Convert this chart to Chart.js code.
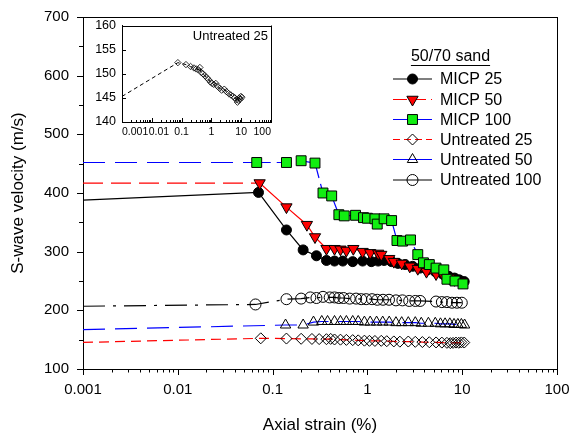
<!DOCTYPE html>
<html>
<head>
<meta charset="utf-8">
<script src="https://cdn.jsdelivr.net/npm/chart.js@4.4.0/dist/chart.umd.min.js"></script>
<style>
  html, body { margin: 0; padding: 0; background: #fff; }
  #wrap { position: relative; width: 576px; height: 441px; }
  #main { position: absolute; left: 0; top: 0; }
  #inset { position: absolute; left: 80px; top: 12px; }
</style>
</head>
<body>
<div id="wrap">
  <canvas id="main" width="576" height="441"></canvas>
  <canvas id="inset" width="200" height="140"></canvas>
</div>
<script>
// axial strain (%) and S-wave velocity (m/s)
const micp25Strain = [0.001, 0.071, 0.14, 0.21, 0.29, 0.37, 0.45, 0.55, 0.7, 0.89, 1.1, 1.3, 1.5, 1.8, 2.1, 2.5, 3.0, 3.6, 4.3, 5.2, 6.2, 7.2, 8.3, 9.3, 10.5];
const micp25Vs = [388, 401, 337, 303, 293, 285, 284, 284, 283, 284, 283, 284, 285, 283, 280, 278, 275, 272, 269, 266, 262, 258, 255, 252, 249];

const micp50Strain = [0.001, 0.073, 0.14, 0.23, 0.28, 0.37, 0.45, 0.52, 0.6, 0.71, 0.89, 1.07, 1.3, 1.4, 1.7, 1.9, 2.3, 2.8, 3.4, 4.2, 5.3, 6.4, 7.3, 8.3, 9.9];
const micp50Vs = [417, 417, 376, 346, 325, 305, 305, 304, 302, 305, 300, 298, 297, 295, 288, 283, 280, 275, 271, 266, 262, 258, 255, 252, 249];

const micp100Strain = [0.001, 0.068, 0.14, 0.2, 0.28, 0.34, 0.42, 0.5, 0.57, 0.75, 0.91, 1.0, 1.2, 1.27, 1.5, 1.8, 2.05, 2.35, 2.85, 3.4, 3.9, 4.5, 5.3, 6.4, 6.9, 8.4, 10.2];
const micp100Vs = [452, 452, 452, 455, 451, 400, 395, 363, 361, 362, 358, 357, 356, 347, 356, 353, 319, 318, 320, 295, 281, 278, 272, 269, 253, 250, 245];

const u25Strain = [0.001, 0.075, 0.14, 0.2, 0.26, 0.31, 0.37, 0.41, 0.45, 0.52, 0.6, 0.7, 0.8, 0.93, 1.05, 1.2, 1.4, 1.6, 1.9, 2.2, 2.7, 3.2, 3.8, 4.5, 5.3, 6.1, 6.9, 7.5, 8.0, 8.6, 9.2, 9.8, 10.5];
const u25Vs = [145.3, 152.3, 151.9, 151.5, 151.2, 151.0, 150.8, 151.3, 150.3, 150.0, 149.6, 149.2, 148.8, 148.3, 148.0, 147.8, 148.0, 147.4, 147.0, 146.6, 146.8, 146.3, 145.9, 145.6, 145.3, 145.0, 144.6, 144.1, 144.5, 145.0, 144.7, 145.3, 145.1];

const u50Strain = [0.001, 0.137, 0.21, 0.27, 0.33, 0.38, 0.45, 0.52, 0.6, 0.7, 0.8, 0.93, 1.07, 1.25, 1.45, 1.7, 2.0, 2.3, 2.7, 3.2, 3.7, 4.4, 5.2, 5.9, 6.6, 7.4, 8.2, 9.0, 9.8, 10.6];
const u50Vs = [167, 175, 175, 180, 181, 181, 181, 181, 181, 181, 181, 180, 180, 180, 180, 180, 179, 179, 179, 179, 178, 178, 178, 177, 177, 177, 176, 176, 176, 175];

const u100Strain = [0.001, 0.066, 0.14, 0.2, 0.25, 0.29, 0.34, 0.4, 0.45, 0.5, 0.56, 0.65, 0.76, 0.86, 0.97, 1.12, 1.27, 1.46, 1.69, 2.0, 2.34, 2.76, 3.2, 3.6, 5.3, 6.1, 6.9, 7.8, 8.8, 9.9];
const u100Vs = [207, 210, 219, 220, 222, 221, 223, 222, 222, 221, 221, 220, 220, 219, 219, 219, 218, 218, 218, 217, 217, 216, 216, 216, 215, 214, 214, 213, 213, 213];

const xTickLabels = ["0.001", "0.01", "0.1", "1", "10", "100"];
const xTickValues = [0.001, 0.01, 0.1, 1, 10, 100];
const legendTitle = "50/70 sand";

const FONT = "'Liberation Sans', Arial, sans-serif";

function pts(xs, ys) {
  return xs.map((x, i) => ({ x: x, y: ys[i] }));
}

function decadeLabel(v) {
  const e = Math.log10(v);
  const r = Math.round(e);
  if (Math.abs(e - r) > 1e-6) return "";
  return xTickLabels[r + 3] || "";
}

// first point of every series is the 0.001 anchor, drawn without marker
function series(label, xs, ys, o) {
  return {
    label: label,
    data: pts(xs, ys),
    showLine: true,
    tension: 0,
    order: o.order,
    borderColor: o.line,
    borderWidth: 1.2,
    segment: {
      borderDash: (c) => (c.p0DataIndex === 0 ? o.firstDash : o.dash),
    },
    pointStyle: o.style,
    rotation: o.rotation || 0,
    pointRadius: (c) => (c.dataIndex === 0 ? 0 : o.radius),
    pointBackgroundColor: o.fill,
    pointBorderColor: "#000",
    pointBorderWidth: 1,
    legendDash: o.legendDash,
  };
}

const datasets = [
  series("MICP 25", micp25Strain, micp25Vs, { order: 2, line: "#000", firstDash: [], dash: [], legendDash: [], style: "circle", radius: 5, fill: "#000" }),
  series("MICP 50", micp50Strain, micp50Vs, { order: 1, line: "#ff0000", firstDash: [20, 8], dash: [], legendDash: [14, 5], style: "triangle", rotation: 180, radius: 6.5, fill: "#ff0000" }),
  series("MICP 100", micp100Strain, micp100Vs, { order: 0, line: "#0000ff", firstDash: [22, 10], dash: [14, 6], legendDash: [], style: "rect", radius: 7, fill: "#11ee11" }),
  series("Untreated 25", u25Strain, u25Vs, { order: 5, line: "#ff0000", firstDash: [10, 6], dash: [10, 6], legendDash: [7, 4], style: "rectRot", radius: 5.5, fill: "rgba(0,0,0,0)" }),
  series("Untreated 50", u50Strain, u50Vs, { order: 4, line: "#0000ff", firstDash: [22, 10], dash: [22, 10], legendDash: [], style: "triangle", radius: 6, fill: "rgba(0,0,0,0)" }),
  series("Untreated 100", u100Strain, u100Vs, { order: 3, line: "#000", firstDash: [22, 8, 3, 8], dash: [22, 8, 3, 8], legendDash: [], style: "circle", radius: 5.5, fill: "rgba(0,0,0,0)" }),
];

function line(ctx, x1, y1, x2, y2) {
  ctx.beginPath();
  ctx.moveTo(x1, y1);
  ctx.lineTo(x2, y2);
  ctx.stroke();
}

const mainDecor = {
  id: "mainDecor",
  afterDraw(chart) {
    const ctx = chart.ctx;
    const a = chart.chartArea;
    const xs = chart.scales.x;
    const ys = chart.scales.y;
    ctx.save();
    ctx.strokeStyle = "#000";
    ctx.lineWidth = 1;
    // frame top and right
    line(ctx, a.left, Math.round(a.top) + 0.5, a.right, Math.round(a.top) + 0.5);
    line(ctx, Math.round(a.right) + 0.5, a.top, Math.round(a.right) + 0.5, a.bottom);
    // outward ticks
    for (let e = -3; e <= 2; e++) {
      for (let m = 1; m < 10; m++) {
        const v = m * Math.pow(10, e);
        if (v > 100.0001) break;
        const px = Math.round(xs.getPixelForValue(v)) + 0.5;
        line(ctx, px, a.bottom, px, a.bottom + (m === 1 ? 6 : 3.5));
      }
    }
    for (let v = 100; v <= 700; v += 50) {
      const py = Math.round(ys.getPixelForValue(v)) + 0.5;
      line(ctx, a.left - (v % 100 === 0 ? 6 : 4), py, a.left, py);
    }
    // legend
    ctx.fillStyle = "#000";
    ctx.font = "16px " + FONT;
    ctx.textBaseline = "middle";
    ctx.textAlign = "center";
    ctx.fillText(legendTitle, 450.5, 57);
    const tw = ctx.measureText(legendTitle).width;
    line(ctx, 450.5 - tw / 2, 65.5, 450.5 + tw / 2, 65.5);
    ctx.textAlign = "left";
    const rows = [79, 99.5, 119.5, 139.5, 159.5, 180];
    chart.data.datasets.forEach((ds, i) => {
      const y = rows[i];
      ctx.save();
      ctx.strokeStyle = ds.borderColor;
      ctx.lineWidth = 1.2;
      ctx.setLineDash(ds.legendDash);
      line(ctx, 393, y, 432, y);
      ctx.restore();
      ctx.save();
      ctx.fillStyle = ds.pointBackgroundColor;
      ctx.strokeStyle = "#000";
      ctx.lineWidth = 1;
      const r = ds.pointRadius({ dataIndex: 1 });
      Chart.helpers.drawPoint(ctx, { pointStyle: ds.pointStyle, rotation: ds.rotation, radius: r, borderWidth: 1 }, 412.5, y);
      ctx.restore();
      ctx.fillText(ds.label, 440, y + 1);
    });
    ctx.restore();
  },
};

new Chart(document.getElementById("main"), {
  type: "scatter",
  data: { datasets: datasets },
  options: {
    responsive: false,
    animation: false,
    layout: { padding: { left: 0, right: 19, top: 15, bottom: 0 } },
    plugins: { legend: { display: false }, tooltip: { enabled: false } },
    scales: {
      x: {
        type: "logarithmic",
        min: 0.001,
        max: 100,
        border: { display: true, color: "#000", width: 1 },
        grid: { drawOnChartArea: false, drawTicks: true, tickLength: 6, tickColor: "rgba(0,0,0,0)" },
        ticks: {
          autoSkip: false,
          maxRotation: 0,
          minRotation: 0,
          padding: 6,
          color: "#000",
          font: { family: FONT, size: 15 },
          callback: (v) => decadeLabel(v),
        },
        title: {
          display: true,
          text: "Axial strain (%)",
          color: "#000",
          font: { family: FONT, size: 17 },
          padding: { top: 0, bottom: 5 },
        },
        afterFit: (s) => { s.height = 72; },
      },
      y: {
        type: "linear",
        min: 100,
        max: 700,
        border: { display: true, color: "#000", width: 1 },
        grid: { drawOnChartArea: false, drawTicks: true, tickLength: 6, tickColor: "rgba(0,0,0,0)" },
        ticks: {
          stepSize: 100,
          padding: 8,
          color: "#000",
          font: { family: FONT, size: 15 },
        },
        title: {
          display: true,
          text: "S-wave velocity (m/s)",
          color: "#000",
          font: { family: FONT, size: 17 },
          padding: { top: 8, bottom: 0 },
        },
        afterFit: (s) => { s.width = 83; },
      },
    },
  },
  plugins: [mainDecor],
});

// inset: ticks point inward, x labels packed like the original (first and last kept inside the box)
const insetDecor = {
  id: "insetDecor",
  afterDraw(chart) {
    const ctx = chart.ctx;
    const a = chart.chartArea;
    const xs = chart.scales.x;
    const ys = chart.scales.y;
    ctx.save();
    ctx.strokeStyle = "#000";
    ctx.lineWidth = 1;
    line(ctx, a.left, Math.round(a.top) + 0.5, a.right, Math.round(a.top) + 0.5);
    line(ctx, Math.round(a.right) + 0.5, a.top, Math.round(a.right) + 0.5, a.bottom);
    for (let e = -3; e <= 2; e++) {
      for (let m = 1; m < 10; m++) {
        const v = m * Math.pow(10, e);
        if (v > 100.0001) break;
        const px = Math.round(xs.getPixelForValue(v)) + 0.5;
        line(ctx, px, a.bottom, px, a.bottom - (m === 1 ? 4 : 2));
      }
    }
    for (let v = 140; v <= 160; v += 5) {
      const py = Math.round(ys.getPixelForValue(v)) + 0.5;
      line(ctx, a.left, py, a.left + 4, py);
    }
    ctx.fillStyle = "#000";
    ctx.font = "10.5px " + FONT;
    ctx.textBaseline = "top";
    ctx.textAlign = "left";
    let prevEnd = -Infinity;
    xTickValues.forEach((v, i) => {
      const label = xTickLabels[i];
      const w = ctx.measureText(label).width;
      let left = xs.getPixelForValue(v) - w / 2;
      if (i === 0) left = a.left;
      if (i === xTickValues.length - 1) left = a.right - w;
      left = Math.max(left, prevEnd + 0.5);
      ctx.fillText(label, left, a.bottom + 5);
      prevEnd = left + w;
    });
    ctx.font = "13px " + FONT;
    ctx.textAlign = "right";
    ctx.textBaseline = "middle";
    ctx.fillText("Untreated 25", a.right - 3, a.top + 11);
    ctx.restore();
  },
};

new Chart(document.getElementById("inset"), {
  type: "scatter",
  data: {
    datasets: [{
      label: "Untreated 25",
      data: pts(u25Strain, u25Vs),
      showLine: true,
      tension: 0,
      borderColor: "#000",
      borderWidth: 1,
      borderDash: [4, 3],
      pointStyle: "rectRot",
      pointRadius: (c) => (c.dataIndex === 0 ? 0 : 3.2),
      pointBackgroundColor: "rgba(0,0,0,0)",
      pointBorderColor: "#000",
      pointBorderWidth: 0.8,
    }],
  },
  options: {
    responsive: false,
    animation: false,
    layout: { padding: { left: 0, right: 9, top: 11, bottom: 0 } },
    plugins: { legend: { display: false }, tooltip: { enabled: false } },
    scales: {
      x: {
        type: "logarithmic",
        min: 0.001,
        max: 100,
        border: { display: true, color: "#000", width: 1 },
        grid: { drawOnChartArea: false, drawTicks: false },
        ticks: { display: false },
        afterFit: (s) => { s.height = 30; },
      },
      y: {
        type: "linear",
        min: 140,
        max: 160,
        border: { display: true, color: "#000", width: 1 },
        grid: { drawOnChartArea: false, drawTicks: false },
        ticks: {
          stepSize: 5,
          padding: 6,
          color: "#000",
          font: { family: FONT, size: 12.5 },
        },
        afterFit: (s) => { s.width = 42; },
      },
    },
  },
  plugins: [insetDecor],
});
</script>
</body>
</html>
